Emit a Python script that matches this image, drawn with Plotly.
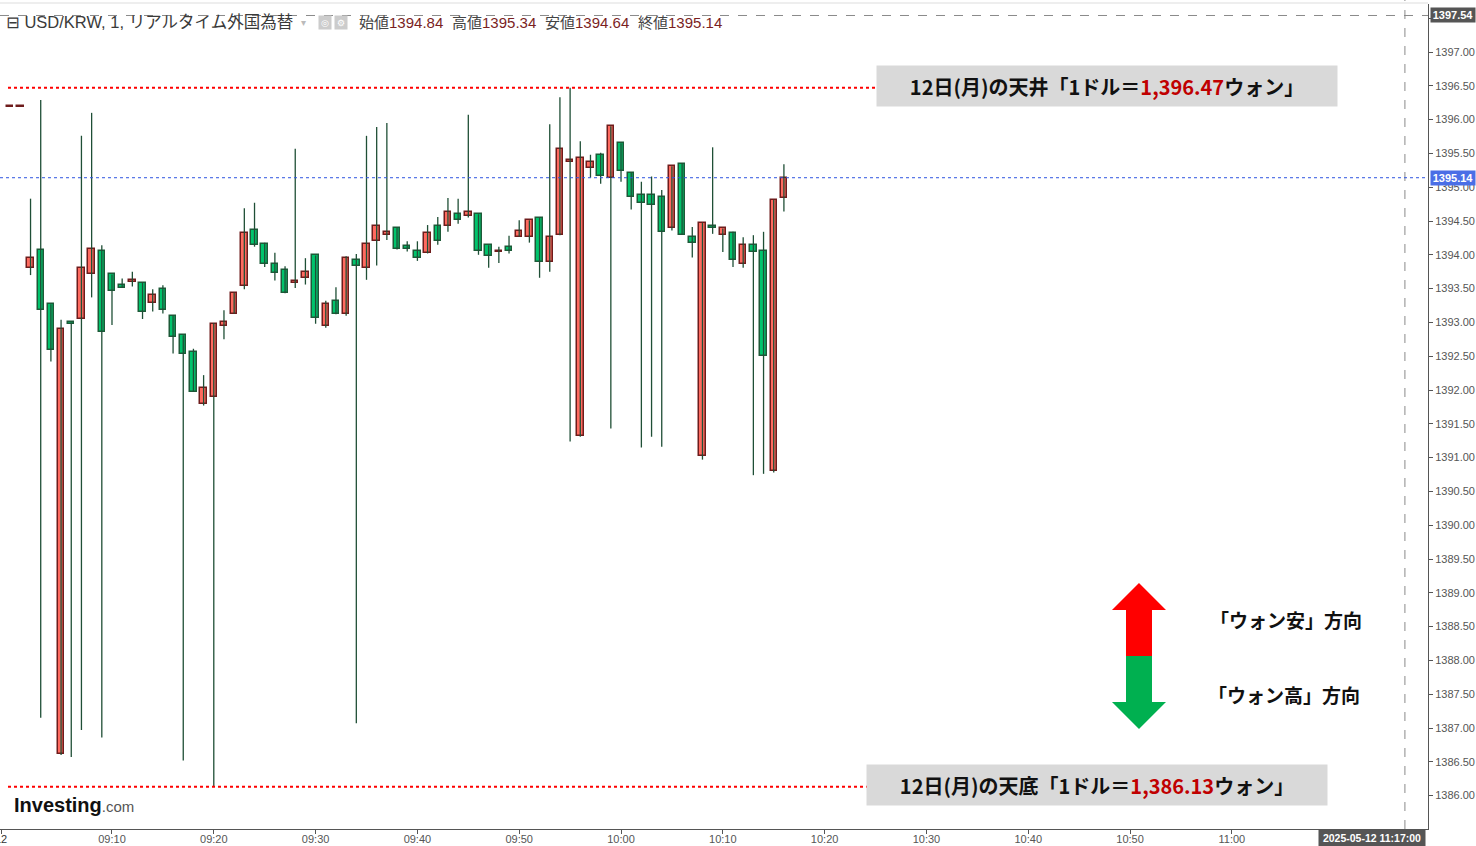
import plotly.graph_objects as go
import pandas as pd

# ---------------- data (1-minute candles, 2025-05-12 09:00 .. 10:16) ----------------
start_time = "2025-05-12 09:00"
opens = [1396.19, 1396.19,
         1393.81, 1394.07, 1393.27, 1386.61, 1393.00, 1393.05, 1393.71, 1394.05, 1393.71, 1393.56,
         1393.61, 1393.59, 1393.28, 1393.49, 1393.10, 1392.81, 1392.56, 1391.80, 1391.89, 1392.95,
         1393.13, 1393.54, 1394.36, 1394.16, 1393.86, 1393.77, 1393.58, 1393.65, 1393.99, 1392.94,
         1393.31, 1393.12, 1393.92, 1393.81, 1394.21, 1394.30, 1394.39, 1394.13, 1394.05, 1394.02,
         1394.42, 1394.42, 1394.61, 1394.58, 1394.60, 1394.14, 1394.05, 1394.11, 1394.27, 1394.27,
         1394.55, 1393.89, 1394.29, 1395.39, 1391.32, 1395.29, 1395.47, 1395.13, 1395.65, 1395.21,
         1394.89, 1394.88, 1394.85, 1394.39, 1395.35, 1394.26, 1391.02, 1394.43, 1394.29, 1394.32,
         1393.86, 1394.14, 1394.05, 1390.80, 1394.84]
highs = [1396.19, 1396.19,
         1394.83, 1396.29, 1393.27, 1393.04, 1393.00, 1395.76, 1396.10, 1394.14, 1393.71, 1393.65,
         1393.75, 1393.59, 1393.49, 1393.55, 1393.10, 1392.81, 1392.61, 1392.22, 1392.99, 1393.18,
         1393.44, 1394.69, 1394.77, 1394.18, 1394.03, 1393.83, 1395.57, 1393.95, 1393.99, 1393.32,
         1393.52, 1393.98, 1394.01, 1395.76, 1395.89, 1395.95, 1394.40, 1394.20, 1394.20, 1394.44,
         1394.56, 1394.84, 1394.83, 1396.07, 1394.60, 1394.14, 1394.12, 1394.28, 1394.51, 1394.51,
         1394.55, 1395.93, 1396.33, 1396.47, 1395.68, 1395.48, 1395.51, 1395.90, 1395.65, 1395.21,
         1395.08, 1395.16, 1394.96, 1395.31, 1395.35, 1394.41, 1394.47, 1395.59, 1394.39, 1394.34,
         1394.26, 1394.29, 1394.34, 1394.81, 1395.34]
lows = [1396.19, 1396.19,
        1393.70, 1387.15, 1392.42, 1386.60, 1386.57, 1386.97, 1393.37, 1386.86, 1392.96, 1393.51,
        1393.53, 1393.05, 1393.16, 1393.13, 1392.54, 1386.52, 1391.97, 1391.77, 1386.13, 1392.75,
        1393.13, 1393.49, 1394.12, 1393.82, 1393.62, 1393.43, 1393.51, 1393.56, 1392.98, 1392.92,
        1393.12, 1393.10, 1387.07, 1393.63, 1393.84, 1394.22, 1394.08, 1394.05, 1393.91, 1394.02,
        1394.15, 1394.34, 1394.46, 1394.55, 1394.00, 1393.81, 1393.88, 1394.02, 1394.27, 1394.18,
        1393.66, 1393.75, 1394.29, 1391.24, 1391.31, 1395.14, 1395.05, 1391.43, 1395.08, 1394.67,
        1391.15, 1391.31, 1391.16, 1394.36, 1394.30, 1393.96, 1390.97, 1394.31, 1394.04, 1393.82,
        1393.81, 1390.74, 1390.76, 1390.78, 1394.64]
closes = [1396.19, 1396.19,
          1393.96, 1393.18, 1392.59, 1392.90, 1392.97, 1393.80, 1394.08, 1392.86, 1393.47, 1393.51,
          1393.61, 1393.15, 1393.40, 1393.18, 1392.78, 1392.53, 1391.97, 1392.03, 1392.97, 1393.00,
          1393.43, 1394.32, 1394.15, 1393.86, 1393.73, 1393.43, 1393.61, 1393.74, 1393.06, 1393.27,
          1393.12, 1393.96, 1393.84, 1394.16, 1394.42, 1394.33, 1394.08, 1394.08, 1393.96, 1394.32,
          1394.20, 1394.63, 1394.51, 1394.63, 1394.06, 1393.98, 1394.05, 1394.05, 1394.35, 1394.51,
          1393.90, 1394.26, 1395.56, 1395.39, 1395.43, 1395.38, 1395.16, 1395.90, 1395.24, 1394.85,
          1394.76, 1394.73, 1394.33, 1395.31, 1394.30, 1394.17, 1394.47, 1394.39, 1394.39, 1393.93,
          1394.14, 1394.04, 1392.51, 1394.81, 1395.14]

last_price = 1395.14
cross_price = 1397.54
cross_time = "2025-05-12 11:17:00"
day_high = 1396.47
day_low = 1386.13

day_tick = "2025-05-12 08:59:08"
day_label = "12"
x_tick_vals = [day_tick, "2025-05-12 09:10", "2025-05-12 09:20", "2025-05-12 09:30",
               "2025-05-12 09:40", "2025-05-12 09:50", "2025-05-12 10:00", "2025-05-12 10:10",
               "2025-05-12 10:20", "2025-05-12 10:30", "2025-05-12 10:40", "2025-05-12 10:50",
               "2025-05-12 11:00"]
x_tick_text = ["", "09:10", "09:20", "09:30", "09:40", "09:50", "10:00", "10:10",
               "10:20", "10:30", "10:40", "10:50", "11:00"]

# ---------------- styling ----------------
UP_FILL, UP_LINE = "#FF6A5F", "#6E1C1C"
DN_FILL, DN_LINE = "#00C46C", "#1D5A38"
WICK = "#1F4F36"
AX = "#555555"
LATIN = "Liberation Sans, Arial, sans-serif"
CJK = "Noto Sans CJK JP, sans-serif"

PW, PTOP, PBOT = 1428.0, 4.0, 829.0


def px(x):
    return x / PW


def py(y):
    return (PBOT - y) / (PBOT - PTOP)


times = pd.date_range(start_time, periods=len(opens), freq="min")

# wicks
wx, wy = [], []
for t, h, l in zip(times, highs, lows):
    if h - l > 0.001:
        wx += [t, t, None]
        wy += [l, h, None]

# bodies
bases, heights, fills, lines = [], [], [], []
for o, c in zip(opens, closes):
    up = c >= o
    lo, hi = min(o, c), max(o, c)
    if hi - lo < 0.02:
        mid = (hi + lo) / 2
        lo, hi = mid - 0.01, mid + 0.01
    bases.append(lo)
    heights.append(hi - lo)
    fills.append(UP_FILL if up else DN_FILL)
    lines.append(UP_LINE if up else DN_LINE)

fig = go.Figure()
fig.add_trace(go.Scatter(x=wx, y=wy, mode="lines", line=dict(color=WICK, width=1.3),
                         hoverinfo="skip", showlegend=False))
fig.add_trace(go.Bar(x=times, y=heights, base=bases, width=38000,
                     marker=dict(color=fills, line=dict(color=lines, width=1.5)),
                     showlegend=False))

shapes = []
# crosshair
shapes.append(dict(type="line", xref="paper", yref="y", x0=0, x1=1, y0=cross_price, y1=cross_price,
                   line=dict(color="#8a8a8a", width=1, dash="dash")))
shapes.append(dict(type="line", xref="x", yref="paper", x0=cross_time, x1=cross_time, y0=0, y1=1.01,
                   line=dict(color="#8a8a8a", width=1, dash="dash")))
# last price line
shapes.append(dict(type="line", xref="paper", yref="y", x0=0, x1=1, y0=last_price, y1=last_price,
                   line=dict(color="#2F55E0", width=1, dash="dot")))
# high / low dotted red lines
shapes.append(dict(type="line", xref="paper", yref="y", x0=px(8), x1=px(876), y0=day_high, y1=day_high,
                   line=dict(color="#FF0000", width=2, dash="dot")))
shapes.append(dict(type="line", xref="paper", yref="y", x0=px(8), x1=px(867), y0=day_low, y1=day_low,
                   line=dict(color="#FF0000", width=2, dash="dot")))
# top border line
shapes.append(dict(type="line", xref="paper", yref="paper", x0=0, x1=1, y0=py(3), y1=py(3),
                   line=dict(color="#dddddd", width=1)))


def poly(points):
    s = "M " + " L ".join(f"{px(a):.6f},{py(b):.6f}" for a, b in points) + " Z"
    return s


shapes.append(dict(type="path", xref="paper", yref="paper",
                   path=poly([(1112, 610), (1139, 583), (1166, 610), (1152, 610), (1152, 656),
                              (1126, 656), (1126, 610)]),
                   fillcolor="#FF0000", line=dict(width=0)))
shapes.append(dict(type="path", xref="paper", yref="paper",
                   path=poly([(1126, 656), (1152, 656), (1152, 702), (1166, 702), (1139, 729),
                              (1112, 702), (1126, 702)]),
                   fillcolor="#00B050", line=dict(width=0)))

ann = []
# day label at the left edge of the time axis (partly cut off by the page edge)
ann.append(dict(xref="x", yref="paper", x=day_tick, y=py(839), xanchor="center", yanchor="middle",
                text=day_label, showarrow=False, font=dict(family=LATIN, size=11, color="#333")))
# header
ann.append(dict(xref="paper", yref="paper", x=px(4), y=py(22), xanchor="left", yanchor="middle",
                text="⊟ USD/KRW, 1, リアルタイム外国為替", showarrow=False,
                font=dict(family="Liberation Sans, Noto Sans CJK JP, DejaVu Sans", size=16.5, color="#3a3a3a")))
ann.append(dict(xref="paper", yref="paper", x=px(303), y=py(22), xanchor="center", yanchor="middle",
                text="▾", showarrow=False, font=dict(family="DejaVu Sans", size=10, color="#bbb")))
for xc in (325, 341):
    ann.append(dict(xref="paper", yref="paper", x=px(xc), y=py(22), xanchor="center", yanchor="middle",
                    text="⚙" if xc == 341 else "◎", showarrow=False, bgcolor="#cccccc", width=12, height=13,
                    borderpad=0, font=dict(family="DejaVu Sans", size=9, color="#ffffff")))
for lab, val, x0 in (("始値", "1394.84", 357), ("高値", "1395.34", 450),
                     ("安値", "1394.64", 543), ("終値", "1395.14", 636)):
    ann.append(dict(xref="paper", yref="paper", x=px(x0), y=py(22), xanchor="left", yanchor="middle",
                    text=f"<span style='color:#444'>{lab}</span><span style='color:#7B1F1F'>{val}</span>",
                    showarrow=False,
                    font=dict(family="Liberation Sans, Noto Sans CJK JP", size=15, color="#444")))

# price label boxes
ann.append(dict(xref="paper", yref="y", x=1, xshift=2, y=cross_price, xanchor="left", yanchor="middle",
                text="<b>1397.54</b>", showarrow=False, bgcolor="#555555", width=44, height=14, borderpad=0,
                font=dict(family=LATIN, size=11, color="white")))
ann.append(dict(xref="paper", yref="y", x=1, xshift=2, y=last_price, xanchor="left", yanchor="middle",
                text="<b>1395.14</b>", showarrow=False, bgcolor="#4A6EE6", width=44, height=14, borderpad=0,
                font=dict(family=LATIN, size=11, color="white")))
ann.append(dict(xref="paper", yref="paper", x=px(1372), y=py(838), xanchor="center", yanchor="middle",
                text="<b>2025-05-12 11:17:00</b>", showarrow=False, bgcolor="#555555", width=106, height=16,
                borderpad=0, font=dict(family=LATIN, size=10.5, color="white")))

# high/low callout boxes
ann.append(dict(xref="paper", yref="paper", x=px(1107), y=py(86), xanchor="center", yanchor="middle",
                text="<b>12日(月)の天井「1ドル＝<span style='color:#C00000'>1,396.47</span>ウォン」</b>",
                showarrow=False, bgcolor="#D9D9D9", width=460, height=40, borderpad=0,
                font=dict(family=CJK, size=20, color="#111")))
ann.append(dict(xref="paper", yref="paper", x=px(1097), y=py(785), xanchor="center", yanchor="middle",
                text="<b>12日(月)の天底「1ドル＝<span style='color:#C00000'>1,386.13</span>ウォン」</b>",
                showarrow=False, bgcolor="#D9D9D9", width=460, height=40, borderpad=0,
                font=dict(family=CJK, size=20, color="#111")))

# direction labels
ann.append(dict(xref="paper", yref="paper", x=px(1208), y=py(620), xanchor="left", yanchor="middle",
                text="<b>「ウォン安」方向</b>", showarrow=False, font=dict(family=CJK, size=19, color="#111")))
ann.append(dict(xref="paper", yref="paper", x=px(1206), y=py(694), xanchor="left", yanchor="middle",
                text="<b>「ウォン高」方向</b>", showarrow=False, font=dict(family=CJK, size=19, color="#111")))

# logo
ann.append(dict(xref="paper", yref="paper", x=px(12), y=py(805), xanchor="left", yanchor="middle",
                text="<b>Investing</b><span style='font-size:15px;color:#555'>.com</span>",
                showarrow=False, font=dict(family=LATIN, size=20, color="#111")))

fig.update_layout(
    width=1476, height=846,
    margin=dict(l=0, r=48, t=4, b=17, pad=0),
    paper_bgcolor="white", plot_bgcolor="white",
    barmode="overlay", bargap=0,
    showlegend=False,
    shapes=shapes, annotations=ann,
    xaxis=dict(type="date", range=["2025-05-12 08:59:00", "2025-05-12 11:19:16"],
               tickvals=x_tick_vals, ticktext=x_tick_text, showgrid=False, zeroline=False,
               showline=True, linecolor=AX, linewidth=1, ticks="outside", ticklen=4, tickcolor=AX,
               automargin=False, ticklabelstandoff=-4,
               tickfont=dict(family=LATIN, size=11, color=AX), rangeslider=dict(visible=False)),
    yaxis=dict(side="right", range=[1385.506, 1397.710], tick0=1386, dtick=0.5, tickformat=".2f",
               showgrid=False, zeroline=False, showline=True, linecolor=AX, linewidth=1,
               ticks="outside", ticklen=4, tickcolor=AX, automargin=False,
               tickfont=dict(family=LATIN, size=11, color=AX)),
)

fig.write_html("out.html", config={"displayModeBar": False},
               post_script="document.body.style.margin='0';document.body.style.overflow='hidden';")
